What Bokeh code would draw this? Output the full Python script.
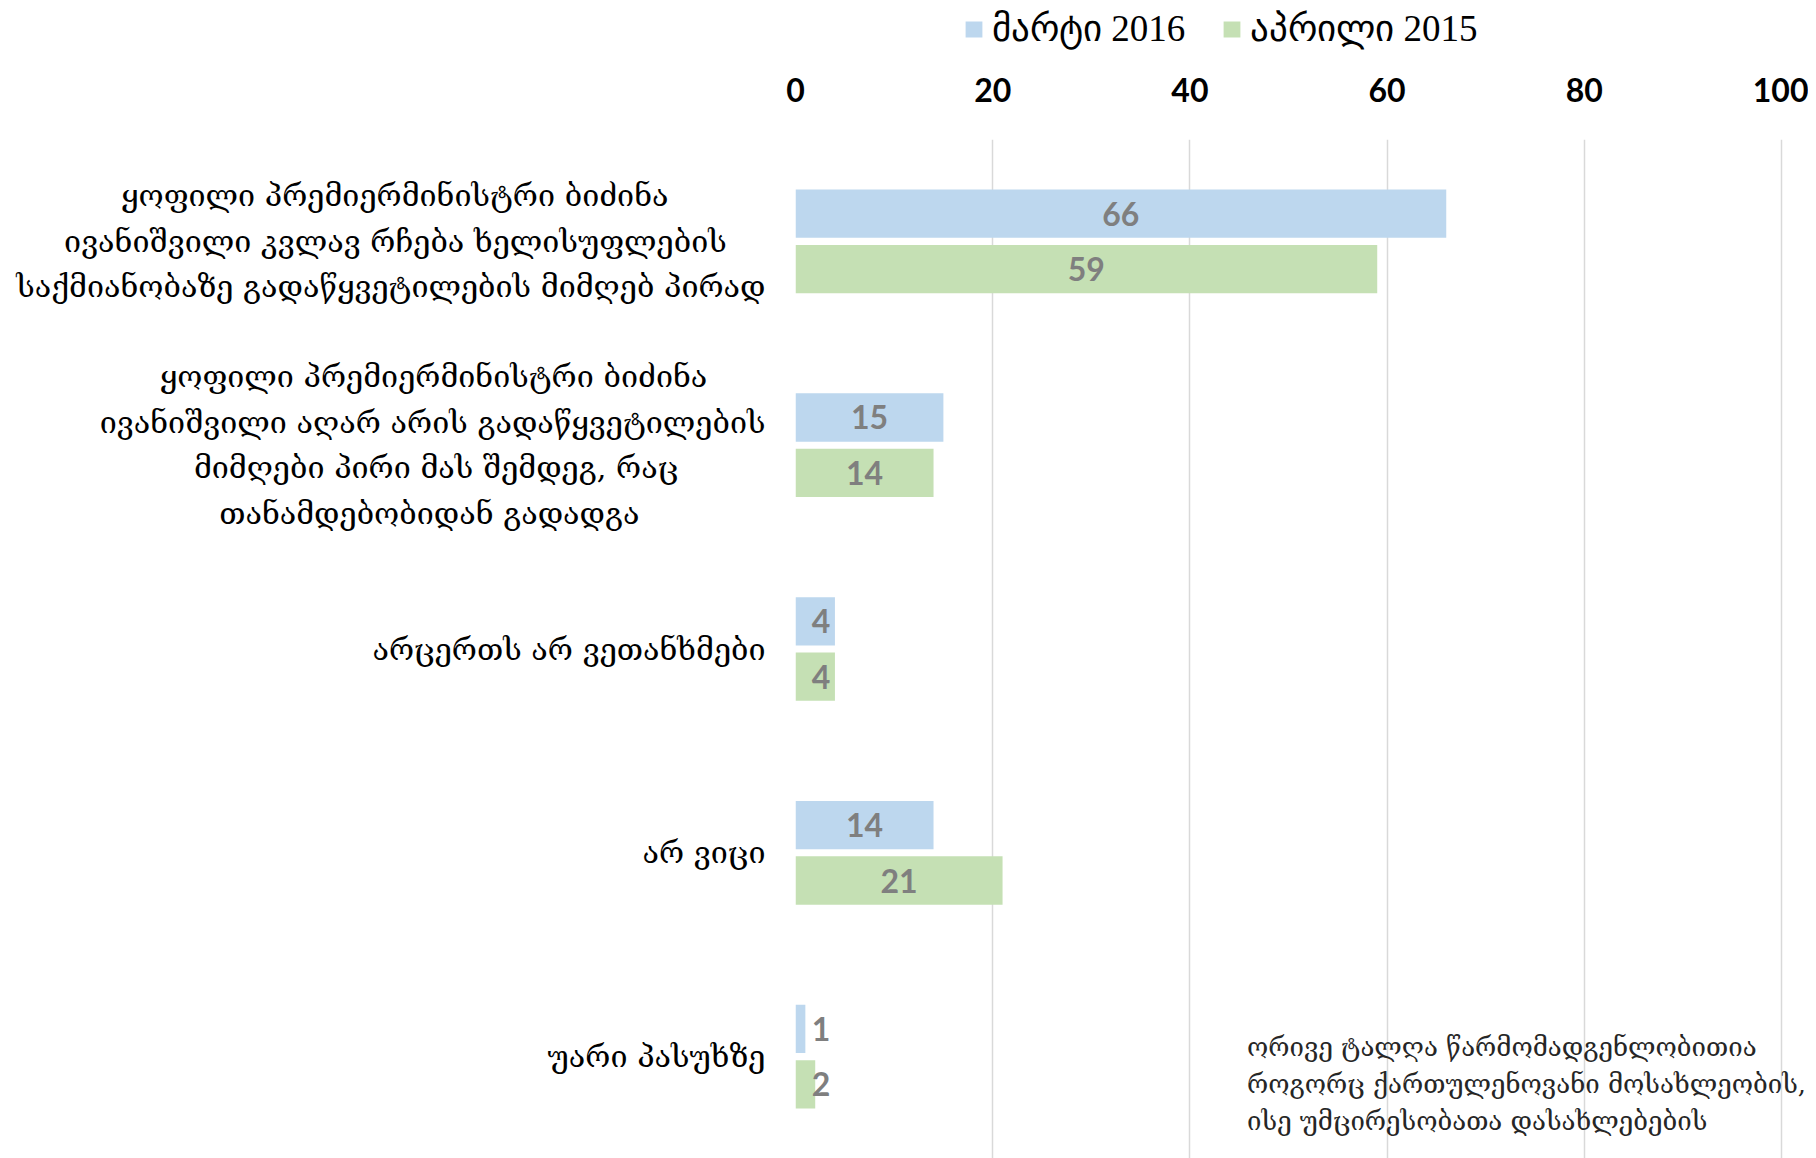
import numpy as np
from bokeh.plotting import figure
from bokeh.layouts import column
from bokeh.models import (ColumnDataSource, Range1d, FixedTicker, Legend, LegendItem,
                          Label, LabelSet)
from bokeh.core.properties import value
from bokeh.embed import file_html
from bokeh.resources import INLINE

# ---------------- data ----------------
categories = [
    ["ყოფილი პრემიერმინისტრი ბიძინა",
     "ივანიშვილი კვლავ რჩება ხელისუფლების",
     "საქმიანობაზე გადაწყვეტილების მიმღებ პირად"],
    ["ყოფილი პრემიერმინისტრი ბიძინა",
     "ივანიშვილი აღარ არის გადაწყვეტილების",
     "მიმღები პირი მას შემდეგ, რაც",
     "თანამდებობიდან გადადგა"],
    ["არცერთს არ ვეთანხმები"],
    ["არ ვიცი"],
    ["უარი პასუხზე"],
]
series_names = ["მარტი 2016", "აპრილი 2015"]
march_2016 = [66, 15, 4, 14, 1]
april_2015 = [59, 14, 4, 21, 2]
x_ticks = [0, 20, 40, 60, 80, 100]
note = ("ორივე ტალღა წარმომადგენლობითია\n"
        "როგორც ქართულენოვანი მოსახლეობის,\n"
        "ისე უმცირესობათა დასახლებების")

# ---------------- style ----------------
BLUE = "#bdd7ee"
GREEN = "#c5e0b4"
GEO_FONT = "DejaVu Serif"
NUM_FONT = "Lato"
NBSP = "\u00a0"
# trailing no-break spaces per line so that lines look centred in a right-aligned block
line_pad = [[10, 4, 0], [6, 0, 9, 13], [0], [0], [0]]

W = 1808
TOP_H = 56
LEFT = 795
n = len(categories)
idx = np.arange(n, dtype=float)
offset = 0.136
bar_h = 0.237

p = figure(width=W, height=1158 - TOP_H, output_backend="svg", toolbar_location=None,
           x_range=Range1d(0, 102.74), y_range=Range1d(n - 0.5, -0.5),
           x_axis_location="above",
           min_border_left=LEFT, min_border_right=0, min_border_top=139 - TOP_H,
           min_border_bottom=0)
p.outline_line_color = None
p.background_fill_color = "white"
p.border_fill_color = "white"

src_a = ColumnDataSource(dict(y=idx - offset, v=march_2016,
                              lx=np.maximum(np.array(march_2016) / 2, 2.6),
                              t=[str(v) for v in march_2016]))
src_b = ColumnDataSource(dict(y=idx + offset, v=april_2015,
                              lx=np.maximum(np.array(april_2015) / 2, 2.6),
                              t=[str(v) for v in april_2015]))

r_a = p.hbar(y="y", left=0, right="v", height=bar_h, source=src_a,
             fill_color=BLUE, line_color=None)
r_b = p.hbar(y="y", left=0, right="v", height=bar_h, source=src_b,
             fill_color=GREEN, line_color=None)

for src in (src_a, src_b):
    p.add_layout(LabelSet(x="lx", y="y", text="t", source=src,
                          text_align="center", text_baseline="middle",
                          text_font=value(NUM_FONT), text_font_style="bold",
                          text_font_size="32px", text_color="#7f7f7f"))

# grid
p.xgrid.ticker = FixedTicker(ticks=x_ticks)
p.xgrid.grid_line_color = "#d9d9d9"
p.xgrid.grid_line_width = 1.5
p.ygrid.visible = False

# x axis (top)
xa = p.xaxis[0]
xa.ticker = FixedTicker(ticks=x_ticks)
xa.axis_line_color = None
xa.major_tick_line_color = None
xa.minor_tick_line_color = None
xa.major_label_text_font = NUM_FONT
xa.major_label_text_font_style = "bold"
xa.major_label_text_font_size = "32px"
xa.major_label_text_color = "black"
xa.major_label_standoff = 32

# y axis (categories)
labels = ["\n".join(line + NBSP * k for line, k in zip(lines, pads))
          for lines, pads in zip(categories, line_pad)]
ya = p.yaxis[0]
ya.ticker = FixedTicker(ticks=list(range(n)))
ya.major_label_overrides = {i: c for i, c in enumerate(labels)}
ya.axis_line_color = None
ya.major_tick_line_color = None
ya.minor_tick_line_color = None
ya.major_label_text_font = GEO_FONT
ya.major_label_text_font_size = "30.5px"
ya.major_label_text_line_height = 1.3
ya.major_label_text_color = "black"
ya.major_label_standoff = 24

# note
p.add_layout(Label(x=45.8, y=3.879, text=note, text_align="left", text_baseline="top",
                   text_font=GEO_FONT, text_font_size="25.8px",
                   text_color="#262626", text_line_height=1.23))

# ---------------- legend strip on top ----------------
# same series, viewed through ranges in which no bar falls; only the legend shows
top = figure(width=W, height=TOP_H, output_backend="svg", toolbar_location=None,
             x_range=Range1d(-1000, -999), y_range=Range1d(-20, -19),
             x_axis_type=None, y_axis_type=None,
             min_border_left=LEFT, min_border_right=0, min_border_top=0,
             min_border_bottom=0)
top.outline_line_color = None
top.xgrid.visible = False
top.ygrid.visible = False
g_a = top.hbar(y="y", left=0, right="v", height=bar_h, source=src_a,
               fill_color=BLUE, line_color=None)
g_b = top.hbar(y="y", left=0, right="v", height=bar_h, source=src_b,
               fill_color=GREEN, line_color=None)
legend = Legend(items=[LegendItem(label=series_names[0], renderers=[g_a]),
                       LegendItem(label=series_names[1], renderers=[g_b])],
                orientation="horizontal", location=(963 - LEFT, 6),
                border_line_color=None, background_fill_alpha=0,
                padding=0, margin=0, spacing=36, label_standoff=8,
                glyph_width=21, glyph_height=20,
                label_text_font="Liberation Serif", label_text_font_size="37px",
                label_text_color="black")
top.add_layout(legend)

open("out.html", "w").write(file_html(column(top, p, spacing=0), INLINE))
